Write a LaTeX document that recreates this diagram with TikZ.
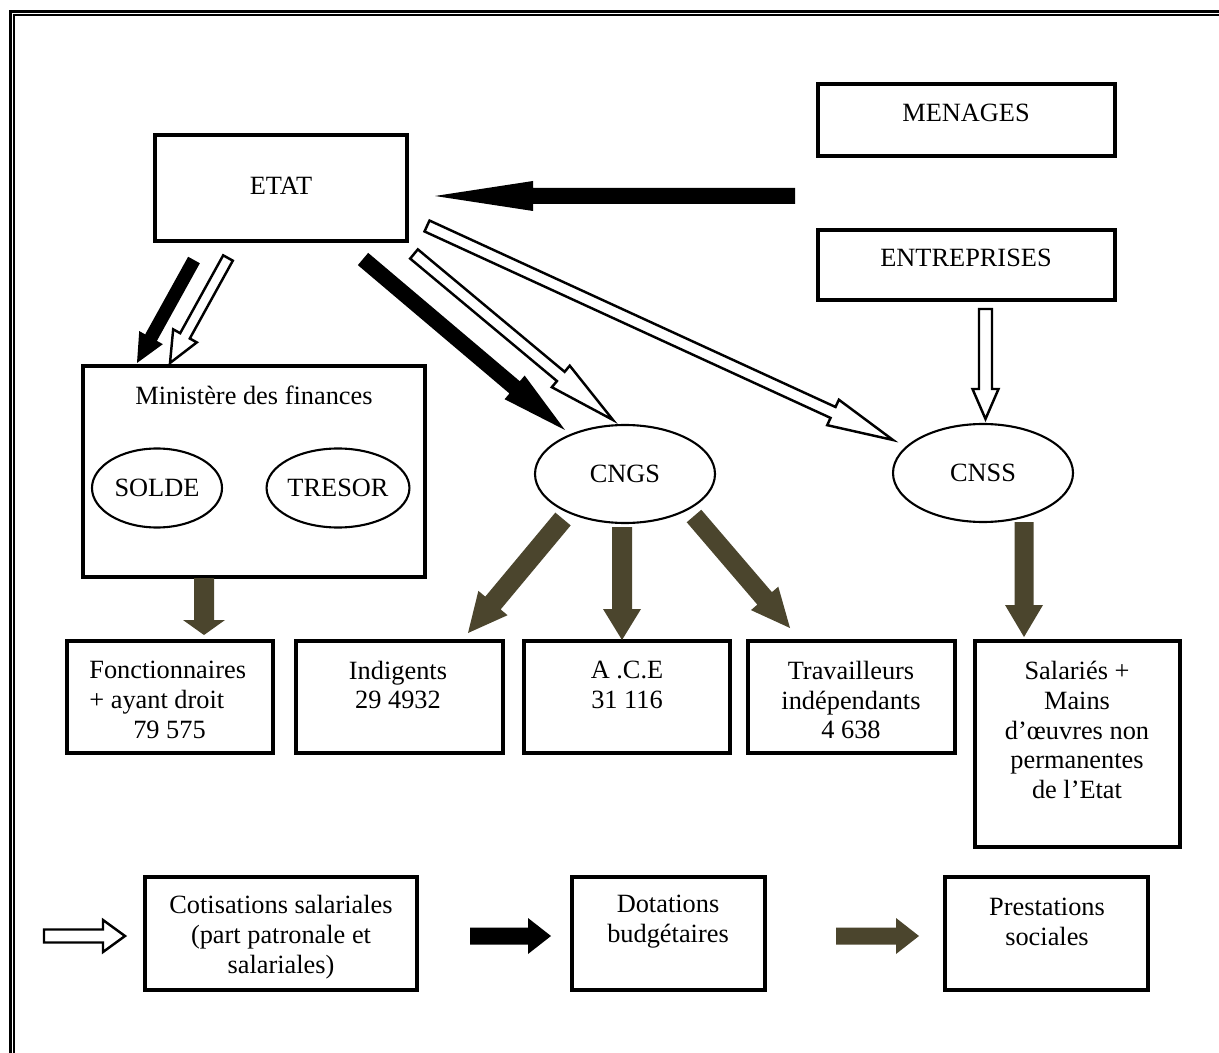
\documentclass[tikz,border=0pt]{standalone}
\usepackage{fontspec}
\setmainfont{Liberation Serif}
\usetikzlibrary{calc,fit,shapes.geometric}
\definecolor{prestcol}{RGB}{75,69,45}
% #1 style, #2 tail, #3 tip, #4 shaft half width (px), #5 head half width (px), #6 head length (px)
\newcommand\blockarr[6]{%
  \coordinate (ba-base) at ($(#3)!#6*0.02cm!(#2)$);
  \draw[#1] ($(#2)!#4*0.02cm!90:(#3)$) -- ($(ba-base)!#4*0.02cm!90:(#3)$)
    -- ($(ba-base)!#5*0.02cm!90:(#3)$) -- (#3)
    -- ($(ba-base)!#5*0.02cm!-90:(#3)$) -- ($(ba-base)!#4*0.02cm!-90:(#3)$)
    -- ($(#2)!#4*0.02cm!-90:(#3)$) -- cycle;
}
\begin{document}
\begin{tikzpicture}[x=0.02cm,y=-0.02cm,
  every node/.style={font=\fontsize{15}{17}\selectfont},
  box/.style={draw, rectangle, line width=1.8pt, inner sep=0pt},
  ell/.style={draw, ellipse, line width=1.2pt, inner sep=0pt},
  txt/.style={inner sep=0pt, align=center},
  blkarr/.style={fill=black, draw=none},
  whtarr/.style={fill=white, draw=black, line width=1.4pt, line join=miter},
  olvarr/.style={fill=prestcol, draw=none}]
\useasboundingbox (0,0) rectangle (1219,1053);
% page border (double line)
\draw[line width=1.7pt] (10.5,1053) -- (10.5,11.5) -- (1219,11.5);
\draw[line width=0.85pt] (14.2,1053) -- (14.2,14.8) -- (1219,14.8);

% boxes
\node[box, fit={(155,135) (407,241)}] (etat) {};
\node[txt] (etat-t) at (281,186) {ETAT};
\node[box, fit={(818,84) (1115,156)}] (menages) {};
\node[txt] (menages-t) at (966,113) {MENAGES};
\node[box, fit={(818,230) (1115,300)}] (entr) {};
\node[txt] (entr-t) at (966,258) {ENTREPRISES};
\node[box, fit={(83,366) (425,577)}] (minfin) {};
\node[txt] (minfin-t) at (254,395) {Ministère des finances};
\node[ell, minimum width=130*0.02cm, minimum height=79*0.02cm] (solde) at (157,488) {SOLDE};
\node[ell, minimum width=130*0.02cm, minimum height=79*0.02cm] (tresor) at (338,488) {TRESOR};
\node[ell, minimum width=180*0.02cm, minimum height=98*0.02cm] (cngs) at (625,474) {CNGS};
\node[ell, minimum width=180*0.02cm, minimum height=98*0.02cm] (cnss) at (983,473) {CNSS};

\node[box, fit={(67,641) (273,753)}] (fonct) {};
\node[txt, align=left, anchor=west] (fonct-t) at (89,700) {Fonctionnaires\\+ ayant droit\\\hspace*{25pt}79 575};
\node[box, fit={(296,641) (503,753)}] (indig) {};
\node[txt] (indig-t) at (398,685) {Indigents\\29 4932};
\node[box, fit={(524,641) (730,753)}] (ace) {};
\node[txt] (ace-t) at (627,685) {A .C.E\\31 116};
\node[box, fit={(748,641) (955,753)}] (trav) {};
\node[txt] (trav-t) at (851,700) {Travailleurs\\indépendants\\4 638};
\node[box, fit={(975,641) (1180,847)}] (sal) {};
\node[txt] (sal-t) at (1077,730) {Salariés +\\Mains\\d’œuvres non\\permanentes\\de l’Etat};

% legend boxes
\node[box, fit={(145,877) (417,990)}] (cotis) {};
\node[txt] (cotis-t) at (281,937) {Cotisations salariales\\(part patronale et\\salariales)};
\node[box, fit={(572,877) (765,990)}] (dot) {};
\node[txt] (dot-t) at (668,922) {Dotations\\budgétaires};
\node[box, fit={(945,877) (1148,990)}] (prest) {};
\node[txt] (prest-t) at (1047,922) {Prestations\\sociales};

% arrow end points
\coordinate (aAt) at (795,196);   \coordinate (aAh) at (435,196);
\coordinate (aBt) at (194,260);   \coordinate (aBh) at (137,363);
\coordinate (aCt) at (228,258);   \coordinate (aCh) at (170,363);
\coordinate (aDt) at (363,259);   \coordinate (aDh) at (565,430);
\coordinate (aEt) at (414,254);   \coordinate (aEh) at (613,420);
\coordinate (aFt) at (427,226);   \coordinate (aFh) at (893,440);
\coordinate (aGt) at (985.5,309); \coordinate (aGh) at (985.5,419);
\coordinate (aHt) at (1024,522);  \coordinate (aHh) at (1024,637);
\coordinate (aIt) at (622,527);   \coordinate (aIh) at (622,640);
\coordinate (aJt) at (563,519);   \coordinate (aJh) at (468,633);
\coordinate (aKt) at (694,516);   \coordinate (aKh) at (790,628);
\coordinate (aLt) at (204,578);   \coordinate (aLh) at (204,635);
\coordinate (aMt) at (44,936);    \coordinate (aMh) at (125,936);
\coordinate (aNt) at (470,936);   \coordinate (aNh) at (551,936);
\coordinate (aOt) at (836,936);   \coordinate (aOh) at (919,936);

\blockarr{blkarr}{aAt}{aAh}{8}{15}{98}
\blockarr{blkarr}{aBt}{aBh}{6.7}{13.5}{29}
\blockarr{whtarr}{aCt}{aCh}{5.5}{13.5}{31}
\blockarr{blkarr}{aDt}{aDh}{8}{15.5}{66}
\blockarr{whtarr}{aEt}{aEh}{6}{14}{68}
\blockarr{whtarr}{aFt}{aFh}{6}{14}{66}
\blockarr{whtarr}{aGt}{aGh}{6.5}{13}{30}
\blockarr{olvarr}{aHt}{aHh}{9.5}{19}{32}
\blockarr{olvarr}{aIt}{aIh}{10}{19}{31}
\blockarr{olvarr}{aJt}{aJh}{10}{19}{39}
\blockarr{olvarr}{aKt}{aKh}{9.6}{18}{39}
\blockarr{olvarr}{aLt}{aLh}{10}{21}{15}
\blockarr{whtarr}{aMt}{aMh}{6.5}{16}{22}
\blockarr{blkarr}{aNt}{aNh}{8.5}{18}{23}
\blockarr{olvarr}{aOt}{aOh}{8.5}{18}{23}
\end{tikzpicture}
\end{document}
